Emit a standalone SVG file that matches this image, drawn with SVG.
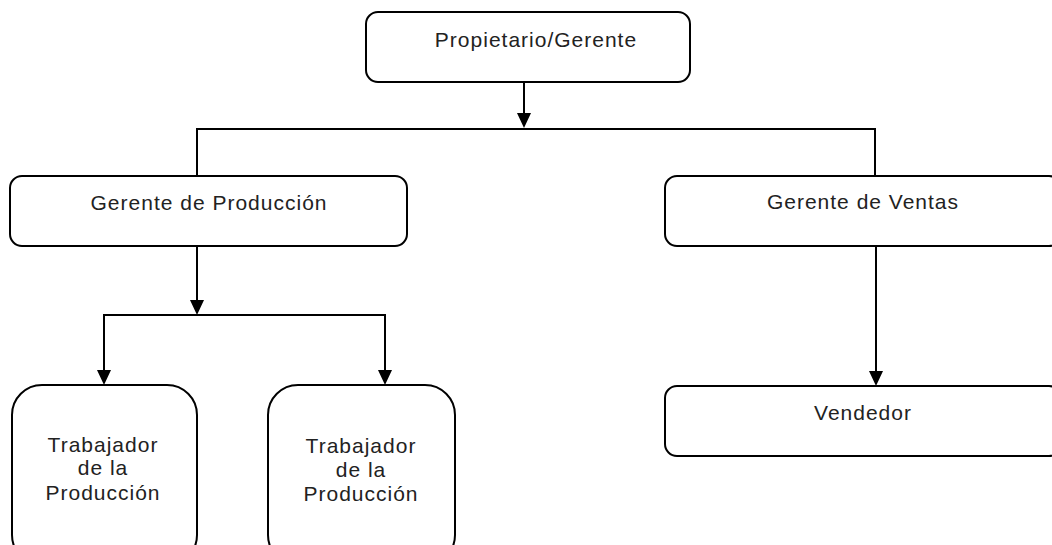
<svg xmlns="http://www.w3.org/2000/svg" width="1052" height="545" viewBox="0 0 1052 545">
  <defs>
    <marker id="arrow" viewBox="0 0 14 15" refX="7" refY="15" markerWidth="14" markerHeight="15" markerUnits="userSpaceOnUse" orient="auto-start-reverse">
      <path d="M0,0 L14,0 L7,15 Z" fill="#000"/>
    </marker>
    <style>
      .box { fill: #fff; stroke: #000; stroke-width: 2; }
      .lbl { font-family: "Liberation Sans", Arial, sans-serif; font-size: 21px; letter-spacing: 1px; fill: #222; text-anchor: middle; }
      .wire { fill: none; stroke: #000; stroke-width: 2; }
    </style>
  </defs>
  <rect width="1052" height="545" fill="#fff"/>

  <g id="connectors">
    <!-- owner to managers -->
    <line class="wire" x1="524" y1="82" x2="524" y2="114"/>
    <path d="M517,113 L531,113 L524,128 Z" fill="#000"/>
    <path class="wire" d="M197,176 V129 H875 V176"/>
    <!-- production manager to workers -->
    <line class="wire" x1="197" y1="246" x2="197" y2="301"/>
    <path d="M190,300 L204,300 L197,315 Z" fill="#000"/>
    <path class="wire" d="M104,371 V315 H385 V371"/>
    <path d="M97,370 L111,370 L104,385 Z" fill="#000"/>
    <path d="M378,370 L392,370 L385,385 Z" fill="#000"/>
    <!-- sales manager to seller -->
    <line class="wire" x1="876" y1="246" x2="876" y2="372"/>
    <path d="M869,371 L883,371 L876,386 Z" fill="#000"/>
  </g>

  <g id="node-propietario">
    <rect class="box" x="366" y="12" width="324" height="70" rx="12"/>
    <text class="lbl" x="536" y="47">Propietario/Gerente</text>
  </g>

  <g id="node-gerente-produccion">
    <rect class="box" x="10" y="176" width="397" height="70" rx="12"/>
    <text class="lbl" x="209" y="210">Gerente de Producción</text>
  </g>

  <g id="node-gerente-ventas">
    <rect class="box" x="665" y="176" width="396" height="70" rx="12"/>
    <text class="lbl" x="863" y="209">Gerente de Ventas</text>
  </g>

  <g id="node-trabajador-1">
    <rect class="box" x="12" y="385" width="185" height="180" rx="30"/>
    <text class="lbl" x="103" y="452">Trabajador</text>
    <text class="lbl" x="103" y="475">de la</text>
    <text class="lbl" x="103" y="500">Producción</text>
  </g>

  <g id="node-trabajador-2">
    <rect class="box" x="268" y="385" width="187" height="180" rx="30"/>
    <text class="lbl" x="361" y="453">Trabajador</text>
    <text class="lbl" x="361" y="477">de la</text>
    <text class="lbl" x="361" y="501">Producción</text>
  </g>

  <g id="node-vendedor">
    <rect class="box" x="665" y="386" width="396" height="70" rx="12"/>
    <text class="lbl" x="863" y="420">Vendedor</text>
  </g>
</svg>
